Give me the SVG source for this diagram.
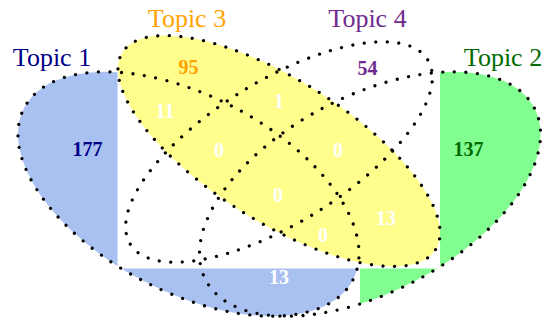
<svg xmlns="http://www.w3.org/2000/svg" width="546" height="320" viewBox="0 0 546 320">
  <style>
    .outline { fill: none; stroke: #000; stroke-width: 3.2; stroke-linecap: round; stroke-dasharray: 0 1; }
    .title { font-family: "Liberation Serif", "Times New Roman", serif; font-size: 26px; text-anchor: middle; }
    .num { font-family: "Liberation Serif", "Times New Roman", serif; font-size: 20px; font-weight: bold; text-anchor: middle; }
    .white { fill: #ffffff; }
  </style>
  <defs>
    <clipPath id="clipLeft">
      <rect x="0" y="0" width="117.5" height="320"/>
      <rect x="0" y="268.5" width="360" height="60"/>
    </clipPath>
    <clipPath id="clipRight">
      <rect x="440" y="0" width="106" height="320"/>
      <rect x="360" y="268.5" width="186" height="60"/>
    </clipPath>
  </defs>
  <rect width="546" height="320" fill="#ffffff"/>

  <g id="fills">
    <g clip-path="url(#clipLeft)">
      <ellipse cx="188.5" cy="194" rx="185.5" ry="98" transform="rotate(27.6 188.5 194)" fill="#a9c1f1"/>
    </g>
    <g clip-path="url(#clipRight)">
      <ellipse cx="370" cy="194" rx="185.5" ry="98" transform="rotate(-27.6 370 194)" fill="#82fd90"/>
    </g>
    <ellipse cx="279" cy="151" rx="185" ry="71" transform="rotate(32.2 279 151)" fill="#fffd8c"/>
  </g>

  <g id="topic1">
    <ellipse class="outline" cx="188.5" cy="194" rx="185.5" ry="98" transform="rotate(27.6 188.5 194)" pathLength="79"/>
    <text class="title" x="52" y="66" fill="#000088">Topic 1</text>
  </g>
  <g id="topic2">
    <ellipse class="outline" cx="370" cy="194" rx="185.5" ry="98" transform="rotate(-27.6 370 194)" pathLength="79"/>
    <text class="title" x="503" y="66" fill="#006c00">Topic 2</text>
  </g>
  <g id="topic3">
    <ellipse class="outline" cx="279" cy="151" rx="185" ry="71" transform="rotate(32.2 279 151)" pathLength="73"/>
    <text class="title" x="187" y="27" fill="#ffa300">Topic 3</text>
  </g>
  <g id="topic4">
    <ellipse class="outline" cx="279" cy="152" rx="175" ry="71" transform="rotate(-31.8 279 152)" pathLength="70"/>
    <text class="title" x="367.5" y="27" fill="#6f2b8f">Topic 4</text>
  </g>

  <g id="counts">
    <text class="num" x="87.5" y="156" fill="#000088">177</text>
    <text class="num" x="468.5" y="156" fill="#006c00">137</text>
    <text class="num" x="188.5" y="74" fill="#ffa300">95</text>
    <text class="num" x="367.5" y="75" fill="#6f2b8f">54</text>
    <text class="num white" x="165" y="118">11</text>
    <text class="num white" x="279" y="108">1</text>
    <text class="num white" x="219" y="157">0</text>
    <text class="num white" x="338" y="157">0</text>
    <text class="num white" x="278" y="202">0</text>
    <text class="num white" x="386" y="225">13</text>
    <text class="num white" x="323" y="242">0</text>
    <text class="num white" x="279" y="284">13</text>
  </g>
</svg>
